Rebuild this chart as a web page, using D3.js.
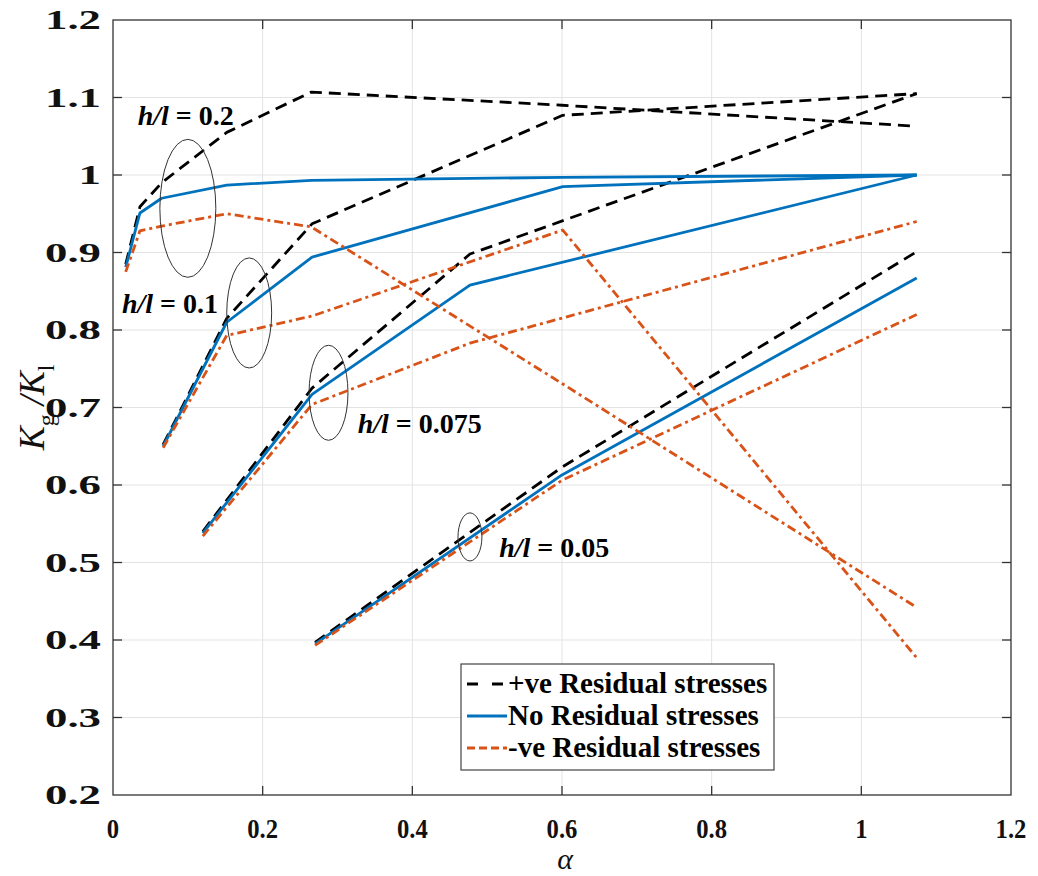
<!DOCTYPE html>
<html><head><meta charset="utf-8">
<script src="https://cdn.jsdelivr.net/npm/d3@7"></script>
<style>
body{margin:0;background:#fff;}
text{font-family:"Liberation Serif","Times New Roman",serif;}
</style>
</head><body>
<svg id="chart" width="1038" height="876"></svg>
<script>
// ---------- data ----------
const xTicks = [0, 0.2, 0.4, 0.6, 0.8, 1, 1.2];
const xTickLabels = ["0", "0.2", "0.4", "0.6", "0.8", "1", "1.2"];
const yTicks = [0.2, 0.3, 0.4, 0.5, 0.6, 0.7, 0.8, 0.9, 1.0, 1.1, 1.2];
const yTickLabels = ["0.2", "0.3", "0.4", "0.5", "0.6", "0.7", "0.8", "0.9", "1", "1.1", "1.2"];

// h/l = 0.2
const alphaH020 = [0.017, 0.036, 0.065, 0.152, 0.265, 0.6, 1.074];
const posH020   = [0.885, 0.959, 0.990, 1.055, 1.107, 1.090, 1.063];
const noH020    = [0.881, 0.951, 0.970, 0.987, 0.993, 0.997, 1.000];
const negH020   = [0.875, 0.928, 0.934, 0.950, 0.933, 0.731, 0.442];
// h/l = 0.1
const alphaH010 = [0.067, 0.152, 0.266, 0.601, 1.074];
const posH010   = [0.652, 0.815, 0.937, 1.077, 1.105];
const noH010    = [0.650, 0.810, 0.894, 0.985, 1.000];
const negH010   = [0.648, 0.793, 0.818, 0.929, 0.377];
// h/l = 0.075
const alphaH0075 = [0.120, 0.266, 0.477, 1.074];
const posH0075   = [0.540, 0.725, 0.898, 1.105];
const noH0075    = [0.538, 0.717, 0.858, 1.000];
const negH0075   = [0.534, 0.704, 0.783, 0.940];
// h/l = 0.05
const alphaH005 = [0.270, 0.600, 1.074];
const posH005   = [0.397, 0.623, 0.901];
const noH005    = [0.395, 0.613, 0.867];
const negH005   = [0.393, 0.606, 0.820];

const seriesNames = ["+ve Residual stresses", "No Residual stresses", "-ve Residual stresses"];

// annotations (data units)
const annotLabels = ["0.2", "0.1", "0.075", "0.05"];
const annotLabelX = [0.033, 0.012, 0.327, 0.516];
const annotLabelY = [1.064, 0.822, 0.667, 0.507];
const ellipseCx = [0.100, 0.182, 0.288, 0.477];
const ellipseCy = [0.957, 0.822, 0.719, 0.533];
const ellipseRx = [0.0374, 0.030, 0.026, 0.016];
const ellipseRy = [0.089, 0.071, 0.0613, 0.031];

// ---------- layout ----------
const L = 113, R = 1011, T = 20, B = 795;
const svg = d3.select("#chart");
const x = d3.scaleLinear().domain([0, 1.2]).range([L, R]);
const y = d3.scaleLinear().domain([0.2, 1.2]).range([B, T]);

const styles = [
  {color: "#000000", dash: "12,7"},
  {color: "#0072BD", dash: null},
  {color: "#D95319", dash: "9,4,3,4"}
];

// grid
const grid = svg.append("g");
grid.selectAll(".gx").data(xTicks.slice(1, -1)).enter().append("line")
  .attr("x1", d => x(d)).attr("x2", d => x(d)).attr("y1", T).attr("y2", B)
  .attr("stroke", "#e3e3e3").attr("stroke-width", 1);
grid.selectAll(".gy").data(yTicks.slice(1, -1)).enter().append("line")
  .attr("y1", d => y(d)).attr("y2", d => y(d)).attr("x1", L).attr("x2", R)
  .attr("stroke", "#e3e3e3").attr("stroke-width", 1);

// series
const groups = [
  {a: alphaH020, v: [posH020, noH020, negH020]},
  {a: alphaH010, v: [posH010, noH010, negH010]},
  {a: alphaH0075, v: [posH0075, noH0075, negH0075]},
  {a: alphaH005, v: [posH005, noH005, negH005]}
];
const line = d3.line().x(d => x(d[0])).y(d => y(d[1]));
const lines = svg.append("g");
for (let s = 0; s < 3; s++) {
  groups.forEach(g => {
    const pts = g.a.map((a, i) => [a, g.v[s][i]]);
    lines.append("path").attr("d", line(pts))
      .attr("fill", "none").attr("stroke", styles[s].color)
      .attr("stroke-width", 2.8)
      .attr("stroke-dasharray", styles[s].dash)
      .attr("stroke-linejoin", "round");
  });
}

// ellipses
const ann = svg.append("g");
ellipseCx.forEach((cx, i) => {
  ann.append("ellipse")
    .attr("cx", x(cx)).attr("cy", y(ellipseCy[i]))
    .attr("rx", x(ellipseRx[i]) - x(0)).attr("ry", y(0.2) - y(0.2 + ellipseRy[i]))
    .attr("fill", "none").attr("stroke", "#333").attr("stroke-width", 1);
});
annotLabels.forEach((t, i) => {
  const tx = ann.append("text").attr("x", x(annotLabelX[i])).attr("y", y(annotLabelY[i]))
    .attr("font-size", 28).attr("font-weight", "bold").attr("fill", "#000");
  tx.append("tspan").attr("font-style", "italic").text("h/l");
  tx.append("tspan").text(" = " + t);
});

// axes box
const ax = svg.append("g");
ax.append("rect").attr("x", L).attr("y", T).attr("width", R - L).attr("height", B - T)
  .attr("fill", "none").attr("stroke", "#333").attr("stroke-width", 1.3);
const tl = 9;
xTicks.slice(1, -1).forEach(d => {
  ax.append("line").attr("x1", x(d)).attr("x2", x(d)).attr("y1", B).attr("y2", B - tl).attr("stroke", "#333").attr("stroke-width", 1.3);
  ax.append("line").attr("x1", x(d)).attr("x2", x(d)).attr("y1", T).attr("y2", T + tl).attr("stroke", "#333").attr("stroke-width", 1.3);
});
yTicks.slice(1, -1).forEach(d => {
  ax.append("line").attr("y1", y(d)).attr("y2", y(d)).attr("x1", L).attr("x2", L + tl).attr("stroke", "#333").attr("stroke-width", 1.3);
  ax.append("line").attr("y1", y(d)).attr("y2", y(d)).attr("x1", R).attr("x2", R - tl).attr("stroke", "#333").attr("stroke-width", 1.3);
});

// tick labels
xTicks.forEach((d, i) => {
  ax.append("text").attr("transform", `translate(${x(d)},${B + 43}) scale(0.88,1)`)
    .attr("text-anchor", "middle").attr("font-size", 28).attr("font-weight", "bold")
    .attr("fill", "#111").text(xTickLabels[i]);
});
yTicks.forEach((d, i) => {
  ax.append("text").attr("transform", `translate(${L - 12},${y(d) + 9}) scale(1.6,1)`)
    .attr("text-anchor", "end").attr("font-size", 28).attr("font-weight", "bold")
    .attr("fill", "#111").text(yTickLabels[i]);
});

// axis titles
ax.append("text").attr("x", 565).attr("y", 869).attr("text-anchor", "middle")
  .attr("font-size", 30).attr("font-style", "italic").attr("fill", "#111").text("α");
const yt = ax.append("text").attr("transform", `translate(44,${(T + B) / 2}) rotate(-90)`)
  .attr("text-anchor", "middle").attr("font-size", 36).attr("font-style", "italic").attr("fill", "#111");
yt.append("tspan").text("K");
yt.append("tspan").attr("font-size", 24).attr("font-style", "normal").attr("dy", 10).text("g");
yt.append("tspan").attr("dy", -10).text(" /K");
yt.append("tspan").attr("font-size", 24).attr("font-style", "normal").attr("dy", 10).text("l");

// legend
const lg = svg.append("g");
const lgX = 461, lgY = 664, lgW = 313, lgH = 106;
lg.append("rect").attr("x", lgX).attr("y", lgY).attr("width", lgW).attr("height", lgH)
  .attr("fill", "#fff").attr("stroke", "#444").attr("stroke-width", 1.2);
seriesNames.forEach((n, i) => {
  const cy = lgY + 20 + i * 32;
  lg.append("line").attr("x1", lgX + 6).attr("x2", lgX + 46).attr("y1", cy).attr("y2", cy)
    .attr("stroke", styles[i].color).attr("stroke-width", 2.8)
    .attr("stroke-dasharray", i === 0 ? "11,14" : (i === 2 ? "8,4,8,4" : null));
  lg.append("text").attr("x", lgX + 47).attr("y", cy + 9).attr("font-size", 29)
    .attr("font-weight", "bold").attr("fill", "#000").text(n);
});
</script>
</body></html>
